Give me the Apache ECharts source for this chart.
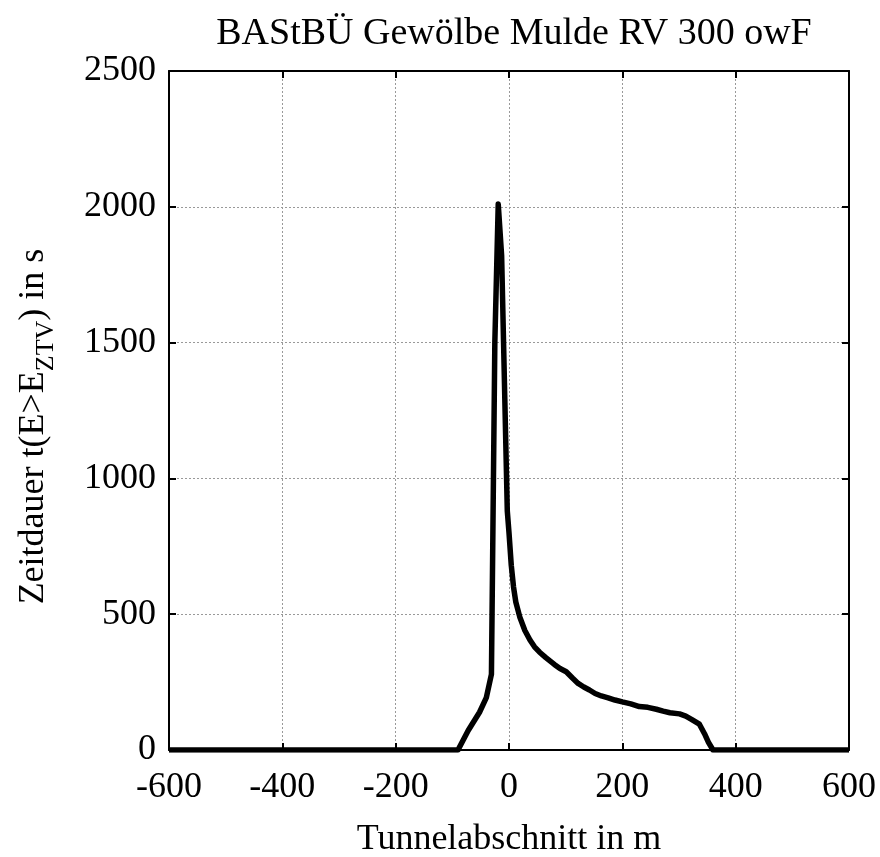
<!DOCTYPE html>
<html><head><meta charset="utf-8">
<script src="https://cdn.jsdelivr.net/npm/echarts@6/dist/echarts.min.js"></script>
<style>html,body{margin:0;padding:0;background:#fff}#c{width:880px;height:857px}</style>
</head><body><div id="c"></div>
<script>
var titleText = 'BAStBÜ Gewölbe Mulde RV 300 owF';
var xName = 'Tunnelabschnitt in m';
var xPos = [-600, -90, -72, -52, -40, -31, -25, -19, -13, -3, 0, 4, 8, 12, 19, 28, 37, 45, 54, 65, 80, 90, 101, 112, 122, 132, 142, 152, 163, 175, 187, 200, 215, 230, 245, 260, 272, 284, 301, 312, 322, 336, 345, 352, 360, 600];
var tVal = [0, 0, 72, 139, 193, 279, 1500, 2010, 1820, 880, 800, 680, 600, 545, 490, 440, 405, 380, 360, 340, 315, 300, 288, 265, 245, 232, 221, 208, 199, 192, 184, 177, 170, 160, 157, 150, 143, 137, 133, 125, 113, 95, 60, 28, 0, 0];
var font = '"Liberation Serif", "DejaVu Serif", serif';
var data = xPos.map(function(x, i){ return [x, tVal[i]]; });
var chart = echarts.init(document.getElementById('c'));
var axisCommon = {
  axisLine: {show: true, onZero: false, lineStyle: {color: '#000', width: 2}},
  axisTick: {show: true, inside: true, length: 7, lineStyle: {color: '#000', width: 2}}
};
var plain = function(v){ return String(v); };
chart.setOption({
  animation: false,
  backgroundColor: '#fff',
  title: {text: titleText, left: 509, top: 10, textAlign: 'center',
    textStyle: {fontFamily: font, fontSize: 38, fontWeight: 'normal', color: '#000'}},
  grid: {left: 169, right: 31, top: 71, bottom: 107, containLabel: false, outerBoundsMode: 'none'},
  xAxis: [
    Object.assign({type: 'value', min: -600, max: 600, interval: 200, position: 'bottom',
      name: xName, nameLocation: 'middle', nameGap: 72,
      nameTextStyle: {fontFamily: font, fontSize: 36, color: '#000'},
      axisLabel: {fontFamily: font, fontSize: 36, color: '#000', margin: 20, formatter: plain},
      splitLine: {show: true, lineStyle: {color: '#999', type: [2, 2], width: 1}}}, axisCommon),
    Object.assign({type: 'value', min: -600, max: 600, interval: 200, position: 'top',
      axisLabel: {show: false}, splitLine: {show: false}}, axisCommon)
  ],
  yAxis: [
    Object.assign({type: 'value', min: 0, max: 2500, interval: 500, position: 'left',
      name: '{a|Zeitdauer t(E>E}{s|ZTV}{a|) in s}', nameLocation: 'middle', nameGap: 110, nameRotate: 90,
      nameTextStyle: {padding: [0, 32, 0, 0], rich: {
        a: {fontFamily: font, fontSize: 36, color: '#000', lineHeight: 50, verticalAlign: 'middle'},
        s: {fontFamily: font, fontSize: 26, color: '#000', lineHeight: 50, verticalAlign: 'bottom', padding: [14, 0, 0, 0]}
      }},
      axisLabel: {fontFamily: font, fontSize: 36, color: '#000', margin: 13, formatter: plain},
      splitLine: {show: true, lineStyle: {color: '#999', type: [2, 2], width: 1}}}, axisCommon),
    Object.assign({type: 'value', min: 0, max: 2500, interval: 500, position: 'right',
      axisLabel: {show: false}, splitLine: {show: false}}, axisCommon)
  ],
  series: [{
    type: 'line', data: data, showSymbol: false, symbol: 'none',
    lineStyle: {color: '#000', width: 5.5, join: 'round'}, z: 5
  }]
});
</script></body></html>
